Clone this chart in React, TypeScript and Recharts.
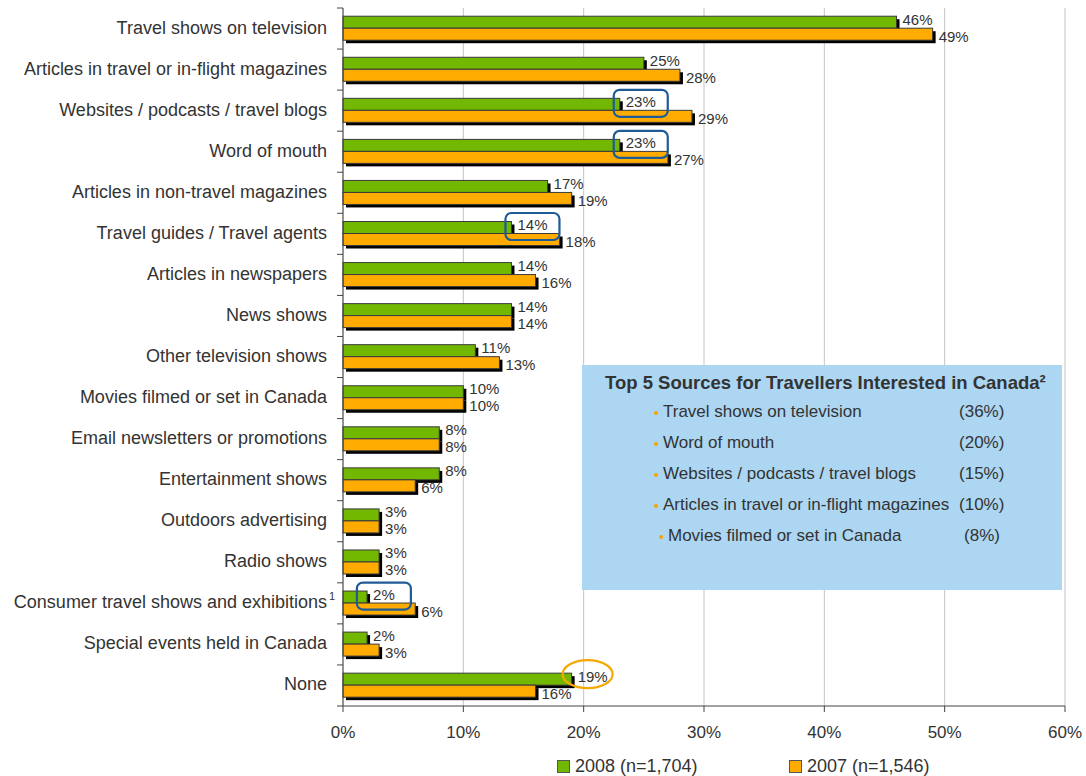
import { BarChart, Bar, XAxis, YAxis, CartesianGrid, Legend, LabelList } from "recharts";

const categories = [
  "Travel shows on television",
  "Articles in travel or in-flight magazines",
  "Websites / podcasts / travel blogs",
  "Word of mouth",
  "Articles in non-travel magazines",
  "Travel guides / Travel agents",
  "Articles in newspapers",
  "News shows",
  "Other television shows",
  "Movies filmed or set in Canada",
  "Email newsletters or promotions",
  "Entertainment shows",
  "Outdoors advertising",
  "Radio shows",
  "Consumer travel shows and exhibitions",
  "Special events held in Canada",
  "None",
];

const share2008 = [46, 25, 23, 23, 17, 14, 14, 14, 11, 10, 8, 8, 3, 3, 2, 2, 19];
const share2007 = [49, 28, 29, 27, 19, 18, 16, 14, 13, 10, 8, 6, 3, 3, 6, 3, 16];

const xTicks = [0, 10, 20, 30, 40, 50, 60];

// rows whose 2008 value gets called out
const boxed = [
  "Websites / podcasts / travel blogs",
  "Word of mouth",
  "Travel guides / Travel agents",
  "Consumer travel shows and exhibitions",
];
const ringed = ["None"];
const footnoted = ["Consumer travel shows and exhibitions"];

const topSources = [
  "Travel shows on television",
  "Word of mouth",
  "Websites / podcasts / travel blogs",
  "Articles in travel or in-flight magazines",
  "Movies filmed or set in Canada",
];
const topShares = [36, 20, 15, 10, 8];

const data = categories.map((name, i) => ({
  name,
  y2008: share2008[i],
  y2007: share2007[i],
}));

const FONT = "'Liberation Sans', Arial, sans-serif";
const GREEN = "#72b800";
const ORANGE = "#ffab00";
const TEXT = "#333";

function ShadowBar(props: any) {
  const { x, y, width, height, fill } = props;
  if (width == null || width <= 0) return null;
  return (
    <g>
      <rect x={x + 3} y={y + 3} width={width} height={height} fill="#000" />
      <rect x={x} y={y} width={width} height={height} fill={fill} stroke="#3a3a3a" strokeWidth={1} />
    </g>
  );
}

function textWidth(s: string) {
  // rough Arial advance at 15px
  let w = 0;
  for (const c of s) w += c === "%" ? 13.3 : 8.34;
  return w;
}

function makeLabel(shiftY: number, annotate: boolean) {
  return (props: any) => {
    const vb = props.viewBox ?? props;
    const { x, y, width, height } = vb;
    const idx = props.index;
    const text = `${props.value}%`;
    const tx = x + width + 6;
    const ty = y + height / 2 + shiftY;
    const name = idx != null ? categories[idx] : "";
    const tc = tx + textWidth(text) / 2;
    return (
      <g>
        <text x={tx} y={ty} dominantBaseline="central" fontSize={15} fontFamily={FONT} fill={TEXT}>
          {text}
        </text>
        {annotate && boxed.includes(name) && (
          <rect x={tc - 27} y={ty - 11.5} width={54} height={27} rx={6} fill="none" stroke="#1f5b96" strokeWidth={2.2} />
        )}
        {annotate && ringed.includes(name) && (
          <ellipse cx={tc - 5} cy={ty - 2} rx={25} ry={14} fill="none" stroke="#f5a800" strokeWidth={2.2} />
        )}
      </g>
    );
  };
}

function CategoryTick(props: any) {
  const { x, y, payload, index } = props;
  const half = payload?.offset || 698 / categories.length / 2;
  const last = index === categories.length - 1;
  return (
    <g>
      <line x1={x} x2={x + 6} y1={y - half} y2={y - half} stroke="#444" />
      {last && <line x1={x} x2={x + 6} y1={y + half} y2={y + half} stroke="#444" />}
      <text x={x - 10} y={y - 1} textAnchor="end" dominantBaseline="central" fontSize={18} fontFamily={FONT} fill={TEXT}>
        {payload.value}
      </text>
      {footnoted.includes(payload.value) && (
        <text x={x - 8} y={y - 7} dominantBaseline="central" fontSize={11} fontFamily={FONT} fill={TEXT}>
          1
        </text>
      )}
    </g>
  );
}

function LegendBox() {
  const item = (left: number, color: string, label: string) => (
    <div style={{ position: "absolute", left, top: 17, display: "flex", alignItems: "center" }}>
      <span style={{ width: 11, height: 11, background: color, border: "1px solid #555", display: "inline-block" }} />
      <span style={{ marginLeft: 5, fontSize: 18, lineHeight: "14px", color: TEXT, fontFamily: FONT }}>{label}</span>
    </div>
  );
  return (
    <div style={{ position: "relative", width: 1086, height: 34 }}>
      {item(557, GREEN, "2008 (n=1,704)")}
      {item(789, ORANGE, "2007 (n=1,546)")}
    </div>
  );
}

function TopSources() {
  return (
    <div
      style={{
        position: "absolute",
        left: 582,
        top: 365,
        width: 480,
        height: 225,
        background: "#acd6f2",
        fontFamily: FONT,
        color: TEXT,
      }}
    >
      <div style={{ position: "absolute", left: 23, top: 7, fontSize: 18.5, fontWeight: "bold", whiteSpace: "nowrap" }}>
        Top 5 Sources for Travellers Interested in Canada²
      </div>
      {topSources.map((s, i) => {
        const shift = i === topSources.length - 1 ? 5 : 0;
        const cy = 48 + i * 31;
        return (
          <div key={s}>
            <span
              style={{
                position: "absolute",
                left: 72 + shift,
                top: cy - 2,
                width: 4,
                height: 4,
                borderRadius: 2,
                background: "#f7a400",
              }}
            />
            <div style={{ position: "absolute", left: 81 + shift, top: cy - 11, fontSize: 17, lineHeight: "20px", whiteSpace: "nowrap" }}>
              {s}
            </div>
            <div style={{ position: "absolute", left: 377 + shift, top: cy - 11, fontSize: 17, lineHeight: "20px" }}>
              ({topShares[i]}%)
            </div>
          </div>
        );
      })}
    </div>
  );
}

export default function App() {
  return (
    <div style={{ position: "absolute", left: 0, top: 0, width: 1086, height: 776, background: "#fff" }}>
      <BarChart
        width={1086}
        height={776}
        data={data}
        layout="vertical"
        margin={{ top: 8, right: 21, bottom: 0, left: 0 }}
        barCategoryGap="20%"
        barGap={0}
        style={{ fontFamily: FONT }}
      >
        <CartesianGrid horizontal={false} stroke="#c4c4c4" />
        <XAxis
          type="number"
          domain={[0, 60]}
          ticks={xTicks}
          tickFormatter={(v) => `${v}%`}
          axisLine={{ stroke: "#444" }}
          tickLine={{ stroke: "#444" }}
          tickSize={6}
          tickMargin={14}
          height={36}
          tick={{ fontSize: 17, fill: TEXT, fontFamily: FONT }}
        />
        <YAxis
          type="category"
          dataKey="name"
          width={343}
          interval={0}
          tickLine={false}
          tickSize={6}
          tickMargin={0}
          axisLine={{ stroke: "#444" }}
          tick={<CategoryTick />}
        />
        <Legend verticalAlign="bottom" height={34} wrapperStyle={{ left: 0, width: 1086 }} content={<LegendBox />} />
        <Bar dataKey="y2008" name="2008 (n=1,704)" fill={GREEN} shape={<ShadowBar />} isAnimationActive={false}>
          <LabelList dataKey="y2008" content={makeLabel(-3, true)} />
        </Bar>
        <Bar dataKey="y2007" name="2007 (n=1,546)" fill={ORANGE} shape={<ShadowBar />} isAnimationActive={false}>
          <LabelList dataKey="y2007" content={makeLabel(2, false)} />
        </Bar>
      </BarChart>
      <TopSources />
    </div>
  );
}
